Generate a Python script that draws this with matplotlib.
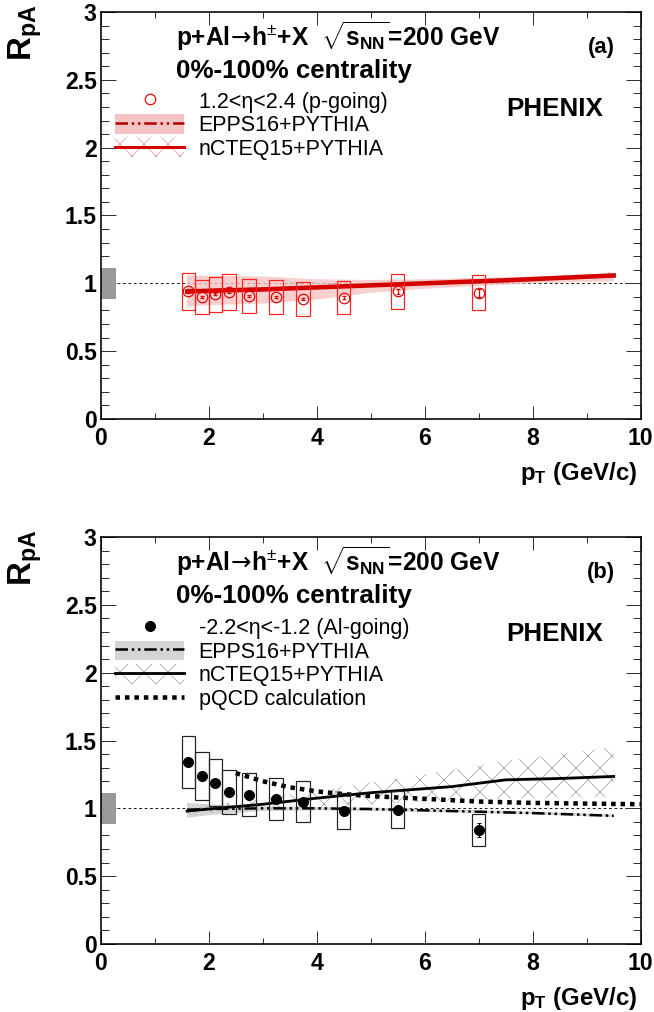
import numpy as np
import matplotlib
matplotlib.use("Agg")
import matplotlib.pyplot as plt
from matplotlib.patches import Rectangle, Patch
from matplotlib.lines import Line2D
from matplotlib.ticker import MultipleLocator, FuncFormatter

plt.rcParams['font.family'] = ['Liberation Sans', 'DejaVu Sans']
plt.rcParams['mathtext.fontset'] = 'custom'
plt.rcParams['mathtext.rm'] = 'Liberation Sans'
plt.rcParams['mathtext.bf'] = 'Liberation Sans:bold'
plt.rcParams['mathtext.it'] = 'Liberation Sans:italic'
plt.rcParams['mathtext.sf'] = 'DejaVu Sans'
plt.rcParams['hatch.linewidth'] = 0.8

# measured points (bin centres in pT)
pt = [1.625, 1.875, 2.125, 2.375, 2.75, 3.25, 3.75, 4.5, 5.5, 7.0]

# p-going, 1.2<eta<2.4
rpa_pgoing = [0.94, 0.90, 0.92, 0.935, 0.905, 0.90, 0.885, 0.895, 0.94, 0.93]
stat_pgoing = [0.008, 0.008, 0.008, 0.008, 0.009, 0.01, 0.01, 0.012, 0.018, 0.03]
syst_pgoing = [0.133, 0.125, 0.129, 0.131, 0.127, 0.125, 0.125, 0.124, 0.131, 0.13]

# Al-going, -2.2<eta<-1.2
rpa_algoing = [1.34, 1.24, 1.19, 1.12, 1.10, 1.07, 1.05, 0.98, 0.99, 0.84]
stat_algoing = [0.01, 0.01, 0.01, 0.01, 0.01, 0.01, 0.012, 0.015, 0.025, 0.05]
syst_algoing = [0.19, 0.178, 0.171, 0.16, 0.158, 0.153, 0.15, 0.136, 0.138, 0.12]

# global normalisation uncertainty
norm_unc = 0.115

# EPPS16+PYTHIA
epps_pt = [1.6, 2, 3, 4, 5, 6, 7, 8, 9.5]
epps_pgoing = [0.95, 0.95, 0.96, 0.97, 0.985, 1.0, 1.02, 1.035, 1.055]
epps_pgoing_lo = [0.83, 0.84, 0.85, 0.88, 0.93, 0.96, 0.98, 1.0, 1.015]
epps_pgoing_hi = [1.06, 1.055, 1.05, 1.03, 1.025, 1.03, 1.04, 1.05, 1.075]
epps_algoing = [0.99, 0.995, 1.0, 1.0, 0.995, 0.985, 0.975, 0.965, 0.945]
epps_algoing_lo = [0.93, 0.95, 0.98, 0.985, 0.98, 0.975, 0.965, 0.955, 0.935]
epps_algoing_hi = [1.04, 1.03, 1.015, 1.01, 1.005, 0.995, 0.985, 0.975, 0.955]

# nCTEQ15+PYTHIA
ncteq_pt = [1.6, 2, 3, 4, 5, 6, 6.5, 7.5, 8.5, 9.5]
ncteq_pgoing = [0.94, 0.945, 0.955, 0.97, 0.985, 1.0, 1.008, 1.022, 1.04, 1.058]
ncteq_pgoing_lo = [0.925, 0.93, 0.94, 0.955, 0.97, 0.985, 0.993, 1.007, 1.025, 1.043]
ncteq_pgoing_hi = [0.955, 0.96, 0.97, 0.985, 1.0, 1.017, 1.025, 1.04, 1.06, 1.085]
ncteq_algoing = [0.98, 0.995, 1.03, 1.075, 1.115, 1.145, 1.16, 1.21, 1.22, 1.235]
ncteq_algoing_lo = [0.96, 0.97, 0.99, 1.01, 1.03, 1.05, 1.06, 1.07, 1.08, 1.085]
ncteq_algoing_hi = [1.0, 1.02, 1.07, 1.13, 1.19, 1.25, 1.28, 1.35, 1.40, 1.45]

# pQCD calculation (Al-going only)
pqcd_pt = [2.5, 3, 3.5, 4, 4.5, 5, 6, 7, 8, 9, 10]
pqcd_algoing = [1.26, 1.2, 1.155, 1.125, 1.105, 1.09, 1.07, 1.05, 1.04, 1.035, 1.03]

W, H = 654, 1012
fig = plt.figure(figsize=(W / 72, H / 72), dpi=72)
ax_a = fig.add_axes([100.7 / W, 1 - 419 / H, 540 / W, 407 / H])
ax_b = fig.add_axes([100.7 / W, 1 - 944 / H, 540 / W, 407 / H])

DASHDOTDOT = (0, (5, 1.5, 1, 1.5, 1, 1.5))
LEG_KW = dict(loc='upper left', frameon=False, fontsize=21.5, handlelength=3.2,
              handleheight=1.0, handletextpad=0.68, labelspacing=0.08,
              borderpad=0, borderaxespad=0)


def style_axes(ax):
    ax.set_xlim(0, 10)
    ax.set_ylim(0, 3)
    ax.xaxis.set_major_locator(MultipleLocator(2))
    ax.xaxis.set_minor_locator(MultipleLocator(1))
    ax.yaxis.set_major_locator(MultipleLocator(0.5))
    ax.yaxis.set_minor_locator(MultipleLocator(0.1))
    ax.yaxis.set_major_formatter(FuncFormatter(lambda v, p: f"{v:g}"))
    ax.xaxis.set_major_formatter(FuncFormatter(lambda v, p: f"{v:g}"))
    ax.tick_params(which='both', direction='in', top=True, right=True,
                   width=1, color='#333333', labelsize=23)
    ax.tick_params(axis='y', which='major', length=15, pad=4)
    ax.tick_params(axis='y', which='minor', length=8)
    ax.tick_params(axis='x', which='major', length=13, pad=8)
    ax.tick_params(axis='x', which='minor', length=6)
    for lab in ax.get_xticklabels() + ax.get_yticklabels():
        lab.set_fontweight('bold')
    for sp in ax.spines.values():
        sp.set_linewidth(1.6)
    ax.axhline(1.0, color='black', lw=0.9, ls=(0, (3, 3)), zorder=1)
    ax.add_patch(Rectangle((0, 1 - norm_unc), 0.28, 2 * norm_unc,
                           facecolor='#999999', edgecolor='none', zorder=2))
    ax.text(-0.14, 1.018, r"$\mathbf{R_{pA}}$", transform=ax.transAxes,
            rotation=90, ha='center', va='top', fontsize=33)
    ax.text(0.993, -0.1, r"$\mathbf{p_{T}}$ (GeV/c)", transform=ax.transAxes,
            ha='right', va='top', fontsize=24, fontweight='bold')
    ax.text(1.39, 2.75, r"p+Al$\!\mathsf{\rightarrow}\!$h$^{\pm}$+X  $\sqrt{\mathbf{s_{NN}}}$=200 GeV",
            fontsize=24.5, fontweight='bold', ha='left', va='baseline')
    ax.text(1.39, 2.51, "0%-100% centrality", fontsize=26, fontweight='bold',
            ha='left', va='baseline')
    ax.text(8.4, 2.233, "PHENIX", fontsize=26, fontweight='bold',
            ha='center', va='baseline')


def draw_boxes(ax, y, syst, color):
    for x, v, s in zip(pt, y, syst):
        ax.add_patch(Rectangle((x - 0.125, v - s), 0.25, 2 * s, fill=False,
                               edgecolor=color, lw=1.2, zorder=5))


# ---------------- panel (a): p-going ----------------
style_axes(ax_a)
red = '#e00000'
ax_a.fill_between(epps_pt, epps_pgoing_lo, epps_pgoing_hi,
                  facecolor='#f6c4c4', edgecolor='none', alpha=0.8, zorder=3)
ax_a.fill_between(ncteq_pt, ncteq_pgoing_lo, ncteq_pgoing_hi,
                  facecolor='none', edgecolor='#f09a9a', hatch='x', lw=0, zorder=3)
ax_a.plot(epps_pt, epps_pgoing, color='#b00000', lw=2.5, ls=DASHDOTDOT, zorder=4)
ax_a.plot(ncteq_pt, ncteq_pgoing, color='#d40000', lw=4.5, zorder=4)
draw_boxes(ax_a, rpa_pgoing, syst_pgoing, '#ff2020')
ax_a.errorbar(pt, rpa_pgoing, yerr=stat_pgoing, fmt='o', mfc='none', mec=red,
              ms=10.5, mew=1.2, ecolor=red, elinewidth=1.2, capsize=2, zorder=6)
ax_a.text(9.52, 2.70, "(a)", fontsize=22, fontweight='bold', ha='right', va='baseline')

h_pts_a = Line2D([], [], ls='none', marker='o', mfc='none', mec=red, ms=10.5, mew=1.2)
h_epps_a = (Patch(facecolor='#f6c4c4', edgecolor='none'),
            Line2D([], [], color='#b00000', lw=2.5, ls=DASHDOTDOT))
h_ncteq_a = (Patch(facecolor='none', edgecolor='#f09a9a', hatch='x', lw=0),
             Line2D([], [], color='#d40000', lw=3))
ax_a.legend([h_pts_a, h_epps_a, h_ncteq_a],
            ["1.2<η<2.4 (p-going)", "EPPS16+PYTHIA", "nCTEQ15+PYTHIA"],
            bbox_to_anchor=(0.27, 2.42), bbox_transform=ax_a.transData, **LEG_KW)

# ---------------- panel (b): Al-going ----------------
style_axes(ax_b)
ax_b.fill_between(epps_pt, epps_algoing_lo, epps_algoing_hi,
                  facecolor='#d4d4d4', edgecolor='none', zorder=3)
ax_b.fill_between(ncteq_pt, ncteq_algoing_lo, ncteq_algoing_hi,
                  facecolor='none', edgecolor='#a8a8a8', hatch='x', lw=0, zorder=3)
ax_b.plot(epps_pt, epps_algoing, color='black', lw=2.5, ls=DASHDOTDOT, zorder=4)
ax_b.plot(ncteq_pt, ncteq_algoing, color='black', lw=2.8, zorder=4)
ax_b.plot(pqcd_pt, pqcd_algoing, color='black', lw=4.5, ls=(0, (1, 1.1)), zorder=4)
draw_boxes(ax_b, rpa_algoing, syst_algoing, '#222222')
ax_b.errorbar(pt, rpa_algoing, yerr=stat_algoing, fmt='o', mfc='black', mec='black',
              ms=10, ecolor='black', elinewidth=1.2, capsize=2, zorder=6)
ax_b.text(9.52, 2.70, "(b)", fontsize=22, fontweight='bold', ha='right', va='baseline')

h_pts_b = Line2D([], [], ls='none', marker='o', color='black', ms=10)
h_epps_b = (Patch(facecolor='#d4d4d4', edgecolor='none'),
            Line2D([], [], color='black', lw=2.5, ls=DASHDOTDOT))
h_ncteq_b = (Patch(facecolor='none', edgecolor='#a8a8a8', hatch='x', lw=0),
             Line2D([], [], color='black', lw=2.8))
h_pqcd_b = Line2D([], [], color='black', lw=4.5, ls=(0, (1, 1.1)))
ax_b.legend([h_pts_b, h_epps_b, h_ncteq_b, h_pqcd_b],
            ["-2.2<η<-1.2 (Al-going)", "EPPS16+PYTHIA", "nCTEQ15+PYTHIA", "pQCD calculation"],
            bbox_to_anchor=(0.27, 2.41), bbox_transform=ax_b.transData, **LEG_KW)

fig.savefig("out.png", dpi=72)
